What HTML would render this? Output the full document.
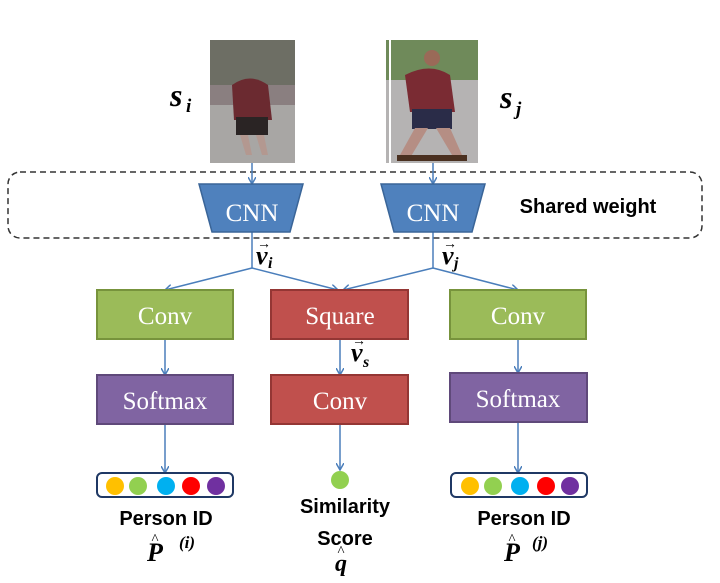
<!DOCTYPE html>
<html><head><meta charset="utf-8"><style>
body{margin:0;background:#fff;}
svg{display:block;}
.t{font-family:"Liberation Serif",serif;fill:#fff;font-size:25px;text-anchor:middle;}
.b{font-family:"Liberation Sans",sans-serif;font-weight:bold;fill:#000;text-anchor:middle;font-size:20px;}
.m{font-family:"Liberation Serif",serif;font-style:italic;font-weight:bold;fill:#000;}
</style></head><body>
<svg width="720" height="583" viewBox="0 0 720 583">
<defs><marker id="a" markerWidth="8" markerHeight="8" refX="7" refY="4" orient="auto" markerUnits="userSpaceOnUse"><path d="M0,0 L7,4 L0,8" fill="none" stroke="#4a7ebb" stroke-width="1.5"/></marker></defs>
<rect x="210" y="40" width="85" height="123" fill="#a8a6a4"/>
<rect x="210" y="40" width="85" height="45" fill="#6d6e64"/>
<rect x="210" y="85" width="85" height="20" fill="#8a7f80"/>
<path d="M232,85 Q250,72 268,85 L272,120 L234,120 Z" fill="#6b2a30"/>
<rect x="236" y="117" width="32" height="18" fill="#2a2424"/>
<path d="M240,135 L246,155 L252,155 L248,135 Z M256,135 L262,155 L268,155 L264,135 Z" fill="#b39890"/>
<rect x="386" y="40" width="92" height="123" fill="#b5b3b3"/>
<rect x="386" y="40" width="92" height="40" fill="#6f8a5a"/>
<rect x="389" y="40" width="2" height="123" fill="#fff"/>
<path d="M405,75 Q430,62 450,75 L455,112 L410,112 Z" fill="#7a2b33"/>
<circle cx="432" cy="58" r="8" fill="#9a6a58"/>
<rect x="412" y="109" width="40" height="20" fill="#2a2c48"/>
<path d="M415,128 L400,155 L410,158 L428,128 Z M436,128 L452,155 L462,155 L450,128 Z" fill="#b58e84"/>
<rect x="397" y="155" width="70" height="6" fill="#4a3020"/>
<text class="m" x="170" y="106" font-size="32">s</text><text class="m" x="186" y="112" font-size="19">i</text>
<text class="m" x="500" y="108" font-size="32">s</text><text class="m" x="516" y="115" font-size="19">j</text>
<rect x="8" y="172" width="694" height="66" rx="12" fill="none" stroke="#333" stroke-width="1.5" stroke-dasharray="6,4"/>
<text x="588" y="213" font-family="Liberation Sans,sans-serif" font-weight="bold" font-size="20" text-anchor="middle">Shared weight</text>
<g stroke="#4a7ebb" stroke-width="1.5" fill="none" marker-end="url(#a)">
<line x1="252" y1="163" x2="252" y2="184"/>
<line x1="433" y1="163" x2="433" y2="184"/>
<line x1="252" y1="268" x2="165" y2="290"/>
<line x1="252" y1="268" x2="338" y2="290"/>
<line x1="433" y1="268" x2="343" y2="290"/>
<line x1="433" y1="268" x2="518" y2="290"/>
<line x1="165" y1="339" x2="165" y2="375"/>
<line x1="340" y1="339" x2="340" y2="375"/>
<line x1="518" y1="339" x2="518" y2="373"/>
<line x1="165" y1="424" x2="165" y2="473"/>
<line x1="340" y1="424" x2="340" y2="470"/>
<line x1="518" y1="422" x2="518" y2="473"/>
</g>
<g stroke="#4a7ebb" stroke-width="1.5">
<line x1="252" y1="232" x2="252" y2="268"/><line x1="433" y1="232" x2="433" y2="268"/>
</g>
<polygon points="199,184 303,184 290,232 212,232" fill="#4f81bd" stroke="#3a6598" stroke-width="1.5"/>
<polygon points="381,184 485,184 472,232 394,232" fill="#4f81bd" stroke="#3a6598" stroke-width="1.5"/>
<text class="t" x="252" y="221">CNN</text><text class="t" x="433" y="221">CNN</text>
<text class="m" x="256" y="264" font-size="26">v</text><text x="257" y="248" font-size="14" font-family="Liberation Serif">→</text><text class="m" x="268" y="268" font-size="16">i</text>
<text class="m" x="442" y="264" font-size="26">v</text><text x="443" y="248" font-size="14" font-family="Liberation Serif">→</text><text class="m" x="454" y="268" font-size="16">j</text>
<text class="m" x="351" y="361" font-size="26">v</text><text x="352" y="345" font-size="14" font-family="Liberation Serif">→</text><text class="m" x="363" y="367" font-size="16">s</text>
<rect x="97" y="290" width="136" height="49" fill="#9bbb59" stroke="#77933c" stroke-width="2"/>
<rect x="271" y="290" width="137" height="49" fill="#c0504d" stroke="#943634" stroke-width="2"/>
<rect x="450" y="290" width="136" height="49" fill="#9bbb59" stroke="#77933c" stroke-width="2"/>
<rect x="97" y="375" width="136" height="49" fill="#8064a2" stroke="#5f497a" stroke-width="2"/>
<rect x="271" y="375" width="137" height="49" fill="#c0504d" stroke="#943634" stroke-width="2"/>
<rect x="450" y="373" width="137" height="49" fill="#8064a2" stroke="#5f497a" stroke-width="2"/>
<text class="t" x="165" y="324">Conv</text>
<text class="t" x="340" y="324">Square</text>
<text class="t" x="518" y="324">Conv</text>
<text class="t" x="165" y="409">Softmax</text>
<text class="t" x="340" y="409">Conv</text>
<text class="t" x="518" y="407">Softmax</text>
<rect x="97" y="473" width="136" height="24" rx="5" fill="#fff" stroke="#1f3864" stroke-width="2"/>
<rect x="451" y="473" width="136" height="24" rx="5" fill="#fff" stroke="#1f3864" stroke-width="2"/>
<circle cx="115" cy="486" r="9" fill="#ffc000"/><circle cx="138" cy="486" r="9" fill="#92d050"/><circle cx="166" cy="486" r="9" fill="#00b0f0"/><circle cx="191" cy="486" r="9" fill="#ff0000"/><circle cx="216" cy="486" r="9" fill="#7030a0"/>
<circle cx="470" cy="486" r="9" fill="#ffc000"/><circle cx="493" cy="486" r="9" fill="#92d050"/><circle cx="520" cy="486" r="9" fill="#00b0f0"/><circle cx="546" cy="486" r="9" fill="#ff0000"/><circle cx="570" cy="486" r="9" fill="#7030a0"/>
<circle cx="340" cy="480" r="9" fill="#92d050"/>
<text class="b" x="166" y="525">Person ID</text>
<text class="b" x="345" y="513">Similarity</text>
<text class="b" x="345" y="545">Score</text>
<text class="b" x="524" y="525">Person ID</text>
<text class="m" x="155" y="561" font-size="26" text-anchor="middle">P</text><text x="155" y="544" font-size="15" text-anchor="middle" font-family="Liberation Serif">^</text><text class="m" x="187" y="548" font-size="17" font-weight="normal" text-anchor="middle">(i)</text>
<text class="m" x="512" y="561" font-size="26" text-anchor="middle">P</text><text x="512" y="544" font-size="15" text-anchor="middle" font-family="Liberation Serif">^</text><text class="m" x="540" y="548" font-size="17" font-weight="normal" text-anchor="middle">(j)</text>
<text class="m" x="341" y="571" font-size="24" text-anchor="middle">q</text><text x="341" y="556" font-size="15" text-anchor="middle" font-family="Liberation Serif">^</text>
</svg>
</body></html>
